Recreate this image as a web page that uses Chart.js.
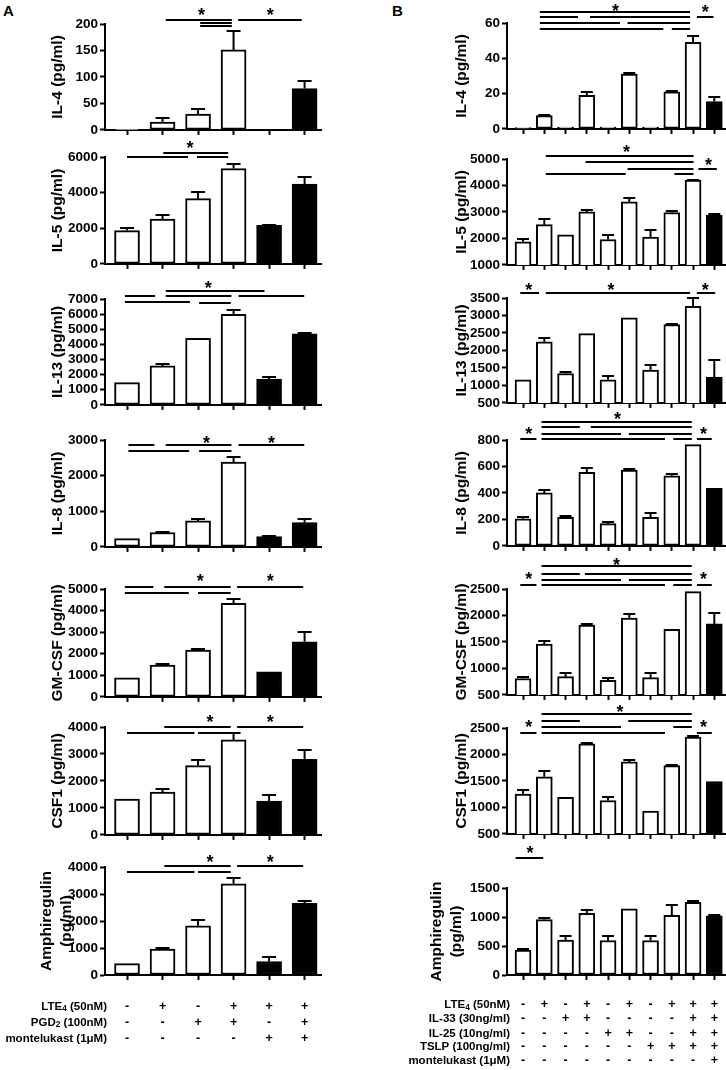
<!DOCTYPE html>
<html><head><meta charset="utf-8">
<script src="https://cdn.jsdelivr.net/npm/chart.js@4.4.1/dist/chart.umd.min.js"></script>
<style>
html,body{margin:0;padding:0;background:#fff;width:726px;height:1070px;overflow:hidden;position:relative;font-family:"Liberation Sans",Arial,sans-serif;}
canvas{position:absolute;}
.lbl{position:absolute;font-weight:bold;font-size:15px;line-height:15px;color:#000;}
</style></head><body>
<div class="lbl" style="left:3px;top:3px">A</div>
<div class="lbl" style="left:392px;top:3px">B</div>
<script>
// ---------------- Column A: categories and treatments ----------------
const catsA = ['Ctrl', 'LTE4', 'PGD2', 'LTE4+PGD2', 'LTE4+mont', 'LTE4+PGD2+mont'];
const filledA = [0, 0, 0, 0, 1, 1];
const rowLabelsA = ['LTE_4 (50nM)', 'PGD_2 (100nM)', 'montelukast (1μM)'];
const rowLTE4A = ['-', '+', '-', '+', '+', '+'];
const rowPGD2A = ['-', '-', '+', '+', '-', '+'];
const rowMontA = ['-', '-', '-', '-', '+', '+'];

// ---------------- Column B: categories and treatments ----------------
const catsB = ['Ctrl', 'LTE4', 'IL-33', 'LTE4+IL-33', 'IL-25', 'LTE4+IL-25', 'TSLP', 'LTE4+TSLP', 'All', 'All+mont'];
const filledB = [0, 0, 0, 0, 0, 0, 0, 0, 0, 1];
const rowLabelsB = ['LTE_4 (50nM)', 'IL-33 (30ng/ml)', 'IL-25 (10ng/ml)', 'TSLP (100ng/ml)', 'montelukast (1μM)'];
const rowLTE4B = ['-', '+', '-', '+', '-', '+', '-', '+', '+', '+'];
const rowIL33B = ['-', '-', '+', '+', '-', '-', '-', '-', '+', '+'];
const rowIL25B = ['-', '-', '-', '-', '+', '+', '-', '-', '+', '+'];
const rowTSLPB = ['-', '-', '-', '-', '-', '-', '+', '+', '+', '+'];
const rowMontB = ['-', '-', '-', '-', '-', '-', '-', '-', '-', '+'];

// ---------------- Column A data ----------------
const aIL4 = [1, 15, 30, 151, 1, 78];
const aIL4Sem = [0, 8, 10, 35, 0, 14];
const aIL4Ticks = [0, 50, 100, 150, 200];
const aIL4Sig = [[1.09, 2.95, 207.5], [3.13, 4.92, 207.5], [2.06, 2.95, 201], [2.06, 2.95, 196]];
const aIL4Star = [[2.1, 224.5], [4.03, 224.5]];

const aIL5 = [1870, 2510, 3660, 5350, 2160, 4480];
const aIL5Sem = [130, 230, 350, 260, 20, 400];
const aIL5Ticks = [0, 2000, 4000, 6000];
const aIL5Sig = [[0, 1.72, 6000], [1.02, 2.85, 6224], [1.97, 2.85, 6000]];
const aIL5Star = [[1.77, 6730]];

const aIL13 = [1470, 2575, 4400, 5990, 1700, 4690];
const aIL13Sem = [0, 110, 0, 280, 130, 60];
const aIL13Ticks = [0, 1000, 2000, 3000, 4000, 5000, 6000, 7000];
const aIL13Sig = [[-0.06, 0.79, 7218], [-0.06, 1.77, 6822], [1.09, 3.87, 7528], [1.09, 2.94, 7198], [2.03, 2.92, 6756], [3.14, 4.99, 7198]];
const aIL13Star = [[2.29, 8036]];

const aIL8 = [230, 405, 730, 2380, 290, 685];
const aIL8Sem = [0, 10, 40, 140, 10, 85];
const aIL8Ticks = [0, 1000, 2000, 3000];
const aIL8Sig = [[0.04, 0.77, 2860], [0.04, 1.75, 2700], [1.09, 2.94, 2860], [2.03, 2.94, 2700], [3.14, 4.99, 2860]];
const aIL8Star = [[2.24, 3050], [4.07, 3050]];

const aGM = [880, 1470, 2170, 4340, 1160, 2550];
const aGMSem = [0, 60, 60, 180, 0, 470];
const aGMTicks = [0, 1000, 2000, 3000, 4000, 5000];
const aGMSig = [[-0.06, 0.74, 5107], [-0.06, 1.74, 4800], [1.05, 2.92, 5107], [2.0, 2.92, 4800], [3.1, 4.96, 5107]];
const aGMStar = [[2.06, 5557], [4.03, 5557]];

const aCSF1 = [1330, 1590, 2570, 3520, 1250, 2800];
const aCSF1Sem = [0, 100, 190, 240, 230, 360];
const aCSF1Ticks = [0, 1000, 2000, 3000, 4000];
const aCSF1Sig = [[0, 1.9, 3778], [1.05, 2.92, 4011], [2.0, 2.92, 3778], [3.1, 4.96, 4011]];
const aCSF1Star = [[2.34, 4344], [4.03, 4344]];

const aAREG = [420, 960, 1820, 3380, 500, 2650];
const aAREGSem = [0, 30, 210, 230, 170, 90];
const aAREGTicks = [0, 1000, 2000, 3000, 4000];
const aAREGSig = [[0, 1.9, 3815], [1.05, 2.92, 4037], [2.0, 2.92, 3815], [3.1, 4.96, 4037]];
const aAREGStar = [[2.34, 4333], [4.03, 4333]];

// ---------------- Column B data ----------------
const bIL4 = [0.8, 7.5, 1, 19, 1, 31, 1, 21, 49, 15.5];
const bIL4Sem = [0, 0.3, 0, 2, 0, 0.5, 0, 0.6, 3.7, 2.3];
const bIL4Ticks = [0, 20, 40, 60];
const bIL4Sig = [[0.79, 7.86, 66.4], [0.79, 2.59, 63.2], [3.15, 7.86, 63.2], [8.18, 8.96, 63.2], [0.79, 4.56, 59.8], [4.92, 7.86, 59.8], [0.79, 6.6, 56.4], [7.0, 7.86, 56.4]];
const bIL4Star = [[4.35, 69.2], [8.57, 68.9]];

const bIL5 = [1870, 2520, 2140, 3000, 1960, 3380, 2050, 2980, 4200, 2880];
const bIL5Sem = [90, 220, 0, 60, 160, 130, 280, 60, 20, 30];
const bIL5Ticks = [1000, 2000, 3000, 4000, 5000];
const bIL5Sig = [[1.07, 8.02, 5125], [2.94, 8.02, 4875], [4.92, 8.02, 4623], [8.25, 9.12, 4623], [1.07, 4.83, 4434], [7.12, 8.02, 4434]];
const bIL5Star = [[4.87, 5440], [8.73, 4936]];

const bIL13 = [1160, 2250, 1340, 2480, 1160, 2930, 1440, 2740, 3260, 1240];
const bIL13Sem = [0, 100, 30, 0, 120, 0, 140, 30, 250, 480];
const bIL13Ticks = [500, 1000, 1500, 2000, 2500, 3000, 3500];
const bIL13Sig = [[-0.13, 0.75, 3643], [1.07, 7.86, 3643], [8.18, 9.04, 3643]];
const bIL13Star = [[0.27, 3860], [4.14, 3860], [8.57, 3860]];

const bIL8 = [205, 400, 215, 555, 168, 572, 215, 530, 765, 435];
const bIL8Sem = [15, 25, 10, 30, 10, 6, 35, 15, 0, 0];
const bIL8Ticks = [0, 200, 400, 600, 800];
const bIL8Sig = [[0.87, 7.94, 938], [0.87, 2.67, 896], [3.19, 7.94, 896], [0.87, 4.61, 845], [4.98, 7.94, 845], [-0.13, 0.63, 805], [0.87, 6.68, 805], [7.07, 7.94, 805], [8.18, 8.88, 805]];
const bIL8Star = [[4.45, 989], [0.27, 881], [8.49, 881]];

const bGM = [810, 1460, 845, 1820, 775, 1950, 825, 1740, 2450, 1840];
const bGMSem = [35, 65, 60, 15, 45, 80, 80, 0, 0, 210];
const bGMTicks = [500, 1000, 1500, 2000, 2500];
const bGMSig = [[0.87, 7.94, 2928], [0.87, 2.67, 2790], [2.91, 7.94, 2790], [0.87, 4.61, 2676], [4.98, 7.94, 2676], [-0.13, 0.63, 2568], [0.87, 6.68, 2568], [7.07, 7.94, 2568], [8.18, 8.88, 2568]];
const bGMStar = [[4.4, 3035], [0.27, 2770], [8.49, 2770]];

const bCSF1 = [1250, 1580, 1190, 2200, 1130, 1860, 930, 1790, 2330, 1490];
const bCSF1Sem = [80, 100, 0, 25, 60, 40, 0, 15, 25, 0];
const bCSF1Ticks = [500, 1000, 1500, 2000, 2500];
const bCSF1Sig = [[0.87, 7.94, 2758], [0.87, 2.67, 2632], [4.95, 7.94, 2632], [0.87, 4.61, 2525], [7.07, 7.94, 2525], [-0.13, 0.63, 2406], [0.87, 6.68, 2406], [8.18, 8.88, 2406]];
const bCSF1Star = [[4.56, 2883], [0.27, 2600], [8.49, 2600]];

const bAREG = [430, 955, 600, 1065, 595, 1140, 595, 1030, 1255, 1020];
const bAREGSem = [15, 30, 80, 60, 80, 0, 80, 170, 15, 10];
const bAREGTicks = [0, 500, 1000, 1500];
const bAREGSig = [[-0.35, 0.95, 2017]];
const bAREGStar = [[0.33, 2172]];

// ---------------- Layout ----------------
const FONT = '"Liberation Sans", Arial, sans-serif';
const PADT = 48, XH = 10, TSIZE = 15.5, TLH = 1.3;
const colA = {left: 0, w: 322, axisX: 105, xmin: -0.62, xmax: 5.49, barW: 25, cap: 14, cats: catsA, filled: filledA,
  table: {labels: rowLabelsA, rows: [rowLTE4A, rowPGD2A, rowMontA], rowY: [1007, 1023, 1039], labelRight: 107, subOff: 2}};
const colB = {left: 363, w: 363, axisX: 507, xmin: -0.755, xmax: 9.55, barW: 16, cap: 12, cats: catsB, filled: filledB,
  table: {labels: rowLabelsB, rows: [rowLTE4B, rowIL33B, rowIL25B, rowTSLPB, rowMontB], rowY: [1004.5, 1019, 1033.5, 1047, 1061], labelRight: 510, subOff: 3}};

const panelsA = [
  {title: 'IL-4 (pg/ml)', values: aIL4, sem: aIL4Sem, ticks: aIL4Ticks, sig: aIL4Sig, stars: aIL4Star, top: 24, bottom: 130, tx: 58},
  {title: 'IL-5 (pg/ml)', values: aIL5, sem: aIL5Sem, ticks: aIL5Ticks, sig: aIL5Sig, stars: aIL5Star, top: 157, bottom: 264, tx: 58},
  {title: 'IL-13 (pg/ml)', values: aIL13, sem: aIL13Sem, ticks: aIL13Ticks, sig: aIL13Sig, stars: aIL13Star, top: 299, bottom: 405, tx: 58},
  {title: 'IL-8 (pg/ml)', values: aIL8, sem: aIL8Sem, ticks: aIL8Ticks, sig: aIL8Sig, stars: aIL8Star, top: 440, bottom: 547, tx: 58},
  {title: 'GM-CSF (pg/ml)', values: aGM, sem: aGMSem, ticks: aGMTicks, sig: aGMSig, stars: aGMStar, top: 589, bottom: 697, tx: 58},
  {title: 'CSF1 (pg/ml)', values: aCSF1, sem: aCSF1Sem, ticks: aCSF1Ticks, sig: aCSF1Sig, stars: aCSF1Star, top: 727, bottom: 835, tx: 58},
  {title: ['Amphiregulin', '(pg/ml)'], values: aAREG, sem: aAREGSem, ticks: aAREGTicks, sig: aAREGSig, stars: aAREGStar, top: 867, bottom: 975, tx: 47, last: true}
];
const panelsB = [
  {title: 'IL-4 (pg/ml)', values: bIL4, sem: bIL4Sem, ticks: bIL4Ticks, sig: bIL4Sig, stars: bIL4Star, top: 23, bottom: 129, tx: 462},
  {title: 'IL-5 (pg/ml)', values: bIL5, sem: bIL5Sem, ticks: bIL5Ticks, sig: bIL5Sig, stars: bIL5Star, top: 159, bottom: 265, tx: 462},
  {title: 'IL-13 (pg/ml)', values: bIL13, sem: bIL13Sem, ticks: bIL13Ticks, sig: bIL13Sig, stars: bIL13Star, top: 298, bottom: 403, tx: 462},
  {title: 'IL-8 (pg/ml)', values: bIL8, sem: bIL8Sem, ticks: bIL8Ticks, sig: bIL8Sig, stars: bIL8Star, top: 440, bottom: 546, tx: 462},
  {title: 'GM-CSF (pg/ml)', values: bGM, sem: bGMSem, ticks: bGMTicks, sig: bGMSig, stars: bGMStar, top: 589, bottom: 695, tx: 462},
  {title: 'CSF1 (pg/ml)', values: bCSF1, sem: bCSF1Sem, ticks: bCSF1Ticks, sig: bCSF1Sig, stars: bCSF1Star, top: 728, bottom: 834, tx: 462},
  {title: ['Amphiregulin', '(pg/ml)'], values: bAREG, sem: bAREGSem, ticks: bAREGTicks, sig: bAREGSig, stars: bAREGStar, top: 888, bottom: 975, tx: 437, last: true}
];

function drawLabel(ctx, text, xRight, y, size, subOff) {
  const i = text.indexOf('_');
  const parts = i < 0 ? [[text, false]] : [[text.slice(0, i), false], [text[i + 1], true], [text.slice(i + 2), false]];
  const fN = 'bold ' + size + 'px ' + FONT, fS = 'bold ' + (size * 0.72) + 'px ' + FONT;
  let w = 0;
  parts.forEach(([t, s]) => { ctx.font = s ? fS : fN; w += ctx.measureText(t).width; });
  let x = xRight - w;
  ctx.textAlign = 'left';
  parts.forEach(([t, s]) => { ctx.font = s ? fS : fN; ctx.fillText(t, x, y + (s ? subOff : 0)); x += ctx.measureText(t).width; });
}

function makeAnnot(p, col, top) {
  return {
    id: 'annot',
    afterDatasetsDraw(chart) {
      const {ctx, scales: {x, y}} = chart;
      const meta = chart.getDatasetMeta(0);
      ctx.save();
      ctx.strokeStyle = '#000'; ctx.fillStyle = '#000'; ctx.lineWidth = 2; ctx.lineCap = 'butt';
      // error bars (SEM, upward)
      meta.data.forEach((bar, i) => {
        const s = p.sem[i]; if (!s) return;
        const yt = y.getPixelForValue(p.values[i]), ye = Math.round(y.getPixelForValue(p.values[i] + s));
        ctx.beginPath();
        ctx.moveTo(bar.x, yt); ctx.lineTo(bar.x, ye);
        ctx.moveTo(bar.x - col.cap / 2, ye); ctx.lineTo(bar.x + col.cap / 2, ye);
        ctx.stroke();
      });
      // significance lines
      p.sig.forEach(([a, b, v]) => {
        const yy = Math.round(y.getPixelForValue(v));
        ctx.beginPath(); ctx.moveTo(x.getPixelForValue(a), yy); ctx.lineTo(x.getPixelForValue(b), yy); ctx.stroke();
      });
      // stars
      ctx.font = 'bold 18px ' + FONT; ctx.textAlign = 'center'; ctx.textBaseline = 'alphabetic';
      p.stars.forEach(([a, v]) => { ctx.fillText('*', x.getPixelForValue(a), y.getPixelForValue(v) + 0.575 * 18); });
      // treatment table
      if (p.last) {
        const t = col.table;
        ctx.textBaseline = 'middle';
        t.rows.forEach((row, r) => {
          const yy = t.rowY[r] - top;
          drawLabel(ctx, t.labels[r], t.labelRight - col.left, yy, 11.5, t.subOff);
          ctx.font = 'bold 12.5px ' + FONT; ctx.textAlign = 'center';
          row.forEach((s, i) => ctx.fillText(s, x.getPixelForValue(i), yy));
        });
      }
      ctx.restore();
    }
  };
}

function makeChart(p, col) {
  const cv = document.createElement('canvas');
  const top = p.top - PADT;
  const bottomAbs = p.last ? 1070 : p.bottom + XH;
  const H = bottomAbs - top;
  cv.width = col.w; cv.height = H;
  cv.style.left = col.left + 'px'; cv.style.top = top + 'px';
  cv.style.width = col.w + 'px'; cv.style.height = H + 'px';
  document.body.appendChild(cv);
  const padL = p.tx - (TSIZE * TLH) / 2 - col.left;
  const yW = col.axisX - col.left - padL;
  const padB = H - PADT - (p.bottom - p.top) - XH;
  new Chart(cv, {
    type: 'bar',
    data: {
      datasets: [{
        data: p.values.map((v, i) => ({x: i, y: v})),
        backgroundColor: col.filled.map(f => f ? '#000' : '#fff'),
        borderColor: '#000', borderWidth: 2, borderSkipped: false,
        barThickness: col.barW
      }]
    },
    options: {
      responsive: false, animation: false, devicePixelRatio: 1,
      layout: {padding: {top: PADT, left: padL, right: 0, bottom: padB}},
      plugins: {legend: {display: false}, tooltip: {enabled: false}},
      scales: {
        x: {
          type: 'linear', min: col.xmin, max: col.xmax, offset: false,
          afterBuildTicks: s => { s.ticks = col.cats.map((c, i) => ({value: i})); },
          afterFit: s => { s.height = XH; },
          ticks: {display: false},
          grid: {offset: false, drawOnChartArea: false, drawTicks: true, tickLength: 5, tickWidth: 2, tickColor: '#000'},
          border: {display: true, width: 2, color: '#000'}
        },
        y: {
          min: p.ticks[0], max: p.ticks[p.ticks.length - 1],
          afterBuildTicks: s => { s.ticks = p.ticks.map(v => ({value: v})); },
          afterFit: s => { s.width = yW; },
          ticks: {font: {family: FONT, size: 13.5, weight: 'bold'}, color: '#000', padding: 2, autoSkip: false, callback: v => String(v)},
          grid: {drawOnChartArea: false, drawTicks: true, tickLength: 5, tickWidth: 2, tickColor: '#000'},
          border: {display: true, width: 2, color: '#000'},
          title: {display: true, text: p.title, color: '#000', font: {family: FONT, size: TSIZE, weight: 'bold', lineHeight: TLH}, padding: {top: 0, bottom: 0}}
        }
      }
    },
    plugins: [makeAnnot(p, col, top)]
  });
}

panelsA.forEach(p => makeChart(p, colA));
panelsB.forEach(p => makeChart(p, colB));
</script>
</body></html>
